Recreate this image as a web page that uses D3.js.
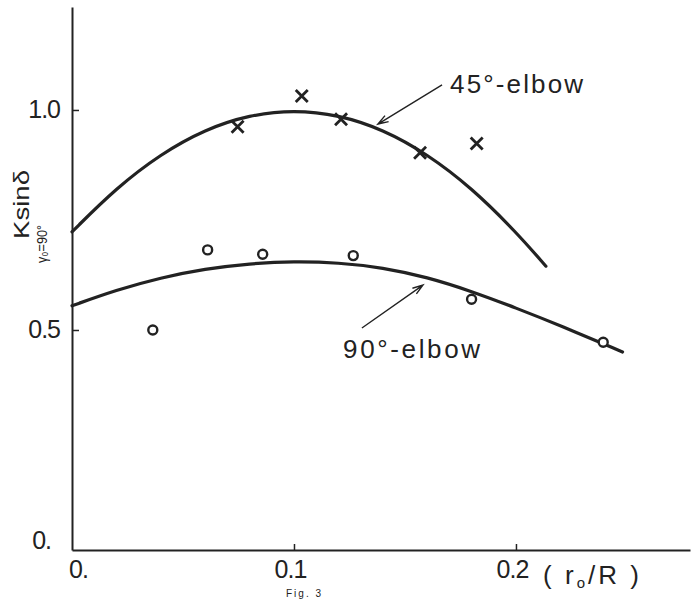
<!DOCTYPE html>
<html>
<head>
<meta charset="utf-8">
<script src="https://cdn.jsdelivr.net/npm/d3@7"></script>
<style>
  html, body { margin: 0; padding: 0; background: #fff; }
  svg { display: block; }
  text { font-family: "Liberation Sans", Arial, sans-serif; fill: #222; }
</style>
</head>
<body>
<svg id="chart" width="694" height="599"></svg>
<script>
// measured points, 45 degree elbow (crosses)
const elbow45_x = [0.0746, 0.1035, 0.1212, 0.1568, 0.1823];
const elbow45_y = [0.962, 1.032, 0.979, 0.903, 0.924];

// measured points, 90 degree elbow (circles)
const elbow90_x = [0.0364, 0.0611, 0.0859, 0.1267, 0.1800, 0.2393];
const elbow90_y = [0.500, 0.682, 0.672, 0.669, 0.570, 0.472];

// fitted curves
const curve45_x = [0.00, 0.02, 0.04, 0.06, 0.08, 0.10, 0.12, 0.14, 0.16, 0.18, 0.20, 0.2135];
const curve45_y = [0.723, 0.823, 0.900, 0.956, 0.989, 1.000, 0.989, 0.956, 0.900, 0.823, 0.723, 0.645];

const curve90_x = [0.00, 0.02, 0.04, 0.06, 0.08, 0.10, 0.12, 0.14, 0.16, 0.18, 0.20, 0.22, 0.248];
const curve90_y = [0.555, 0.591, 0.619, 0.639, 0.651, 0.656, 0.653, 0.642, 0.620, 0.588, 0.550, 0.510, 0.450];

// tick labels
const xTicks = [0, 0.1, 0.2];
const xTickLabels = ["0.", "0.1", "0.2"];
const yTicks = [0.5, 1.0];
const yTickLabels = ["0.5", "1.0"];

const ink = "#222";
const svg = d3.select("#chart");

const x = d3.scaleLinear().domain([0, 0.2784]).range([72, 690]);
const y = d3.scaleLinear().domain([0, 1.234]).range([550, 7]);

// axes
const xAxis = d3.axisBottom(x)
  .tickValues(xTicks)
  .tickFormat((d, i) => xTickLabels[i])
  .tickSizeInner(-6)
  .tickSizeOuter(0)
  .tickPadding(10);

const yAxis = d3.axisLeft(y)
  .tickValues(yTicks)
  .tickFormat((d, i) => yTickLabels[i])
  .tickSizeInner(-7)
  .tickSizeOuter(0)
  .tickPadding(12);

const gx = svg.append("g")
  .attr("transform", "translate(0," + y(0) + ")")
  .call(xAxis);
const gy = svg.append("g")
  .attr("transform", "translate(" + x(0) + ",0)")
  .call(yAxis);

[gx, gy].forEach(g => {
  g.select(".domain").attr("stroke", ink).attr("stroke-width", 2);
  g.selectAll(".tick line").attr("stroke", ink).attr("stroke-width", 1.5);
  g.selectAll(".tick text")
    .attr("fill", ink)
    .attr("font-family", "Liberation Sans, Arial, sans-serif")
    .attr("font-size", 25)
    .attr("letter-spacing", -1);
});
gx.select(".tick:first-of-type line").remove();
gx.selectAll(".tick text").attr("dx", (d, i) => i == 0 ? 6 : -4);

// the "0." on the y axis sits a little above the x axis
svg.append("text")
  .attr("x", x(0) - 21)
  .attr("y", y(0) - 1)
  .attr("text-anchor", "end")
  .attr("font-size", 25)
  .attr("letter-spacing", -1)
  .text("0.");

// y label: K sin δ with subscript
const yl = svg.append("g");
yl.append("text")
  .attr("transform", "translate(29,239) rotate(-90)")
  .attr("font-size", 22)
  .attr("textLength", 69)
  .attr("lengthAdjust", "spacingAndGlyphs")
  .text("Ksinδ");
yl.append("text")
  .attr("transform", "translate(47,263) rotate(-90)")
  .attr("font-size", 15)
  .attr("textLength", 38)
  .attr("lengthAdjust", "spacingAndGlyphs")
  .text("γ₀=90°");

// x label
const xl = svg.append("text")
  .attr("x", 543)
  .attr("y", 584)
  .attr("font-size", 26)
  .attr("textLength", 96)
  .attr("lengthAdjust", "spacing");
xl.append("tspan").text("( r");
xl.append("tspan").attr("font-size", 15).attr("dy", 4).text("o");
xl.append("tspan").attr("dy", -4).text("/R )");

// fitted curves
const line = d3.line()
  .x(d => x(d[0]))
  .y(d => y(d[1]))
  .curve(d3.curveBasis);

const curves = [
  d3.zip(curve45_x, curve45_y),
  d3.zip(curve90_x, curve90_y)
];
svg.append("g").selectAll("path")
  .data(curves)
  .enter()
  .append("path")
  .attr("d", line)
  .attr("fill", "none")
  .attr("stroke", ink)
  .attr("stroke-width", 3.2)
  .attr("stroke-linecap", "round");

// crosses (45 deg)
const cs = 6;
svg.append("g").selectAll("path")
  .data(d3.zip(elbow45_x, elbow45_y))
  .enter()
  .append("path")
  .attr("d", d => {
    let px = x(d[0]), py = y(d[1]);
    return "M" + (px - cs) + "," + (py - cs) + "L" + (px + cs) + "," + (py + cs) +
           "M" + (px - cs) + "," + (py + cs) + "L" + (px + cs) + "," + (py - cs);
  })
  .attr("stroke", ink)
  .attr("stroke-width", 2.8)
  .attr("fill", "none");

// circles (90 deg)
svg.append("g").selectAll("circle")
  .data(d3.zip(elbow90_x, elbow90_y))
  .enter()
  .append("circle")
  .attr("cx", d => x(d[0]))
  .attr("cy", d => y(d[1]))
  .attr("r", 4.5)
  .attr("fill", "#fff")
  .attr("stroke", ink)
  .attr("stroke-width", 2.4);

// annotations: label position, arrow tail and arrow tip in data units
const notes = [
  { label: "45°-elbow", tx: 0.1703, ty: 1.039, width: 133, from: [0.1667, 1.057], to: [0.1378, 0.968] },
  { label: "90°-elbow", tx: 0.1221, ty: 0.436, width: 137, from: [0.1306, 0.5045], to: [0.1581, 0.602] }
];

notes.forEach(n => {
  svg.append("text")
    .attr("x", x(n.tx))
    .attr("y", y(n.ty))
    .attr("font-size", 26)
    .attr("textLength", n.width)
    .attr("lengthAdjust", "spacing")
    .text(n.label);

  let x1 = x(n.from[0]), y1 = y(n.from[1]);
  let x2 = x(n.to[0]), y2 = y(n.to[1]);
  let ang = Math.atan2(y2 - y1, x2 - x1);
  let hl = 11, ha = 0.32;
  let a1 = [x2 - hl * Math.cos(ang - ha), y2 - hl * Math.sin(ang - ha)];
  let a2 = [x2 - hl * Math.cos(ang + ha), y2 - hl * Math.sin(ang + ha)];
  svg.append("path")
    .attr("d", "M" + x1 + "," + y1 + "L" + x2 + "," + y2 +
               "M" + a1[0] + "," + a1[1] + "L" + x2 + "," + y2 + "L" + a2[0] + "," + a2[1])
    .attr("fill", "none")
    .attr("stroke", ink)
    .attr("stroke-width", 1.4);
});

// figure caption (only its top edge shows in the original); kept small so it fits
svg.append("text")
  .attr("x", 286)
  .attr("y", 597)
  .attr("font-size", 10)
  .attr("letter-spacing", 2)
  .text("Fig. 3");
</script>
</body>
</html>
